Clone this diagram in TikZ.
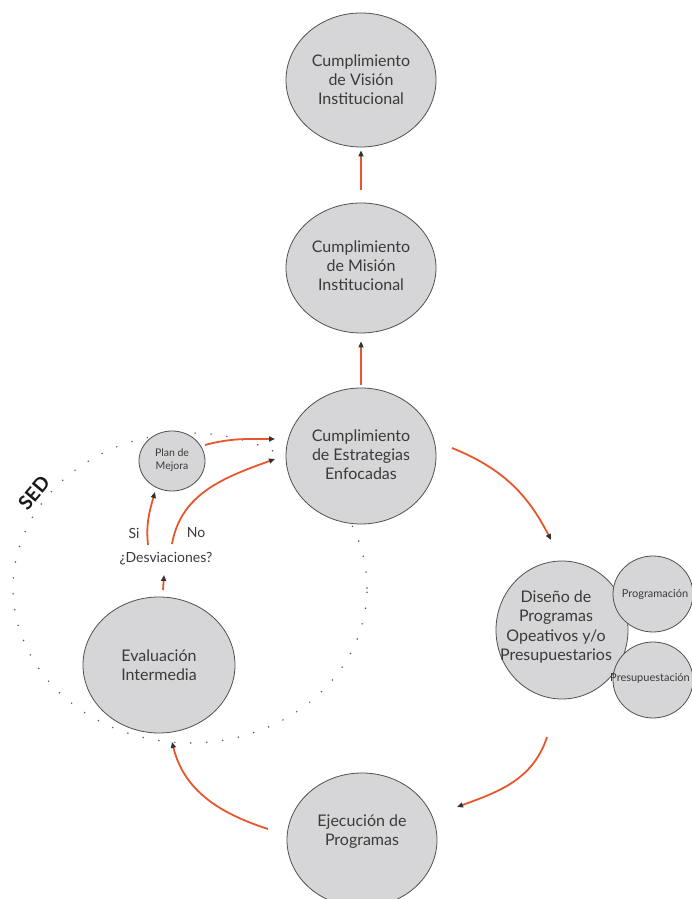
\documentclass[tikz,border=0pt]{standalone}
\usepackage{fontspec}
\setmainfont{Lato}
\usetikzlibrary{arrows.meta,shapes.geometric}
\definecolor{circfill}{HTML}{D6D6D8}
\definecolor{circline}{HTML}{505050}
\definecolor{txt}{HTML}{3A3A3A}
\definecolor{arrowc}{HTML}{E8562B}
\begin{document}
\begin{tikzpicture}[x=1pt,y=1pt,
  bub/.style={ellipse, draw=circline, fill=circfill, line width=0.8pt, inner sep=0pt},
  lbl/.style={align=center, text=txt, inner sep=0pt, font=\fontsize{16}{19}\selectfont},
  small/.style={align=center, text=txt, inner sep=0pt, font=\fontsize{10.5}{13}\selectfont},
  mid/.style={align=center, text=txt, inner sep=0pt, font=\fontsize{14}{17}\selectfont},
  arr/.style={draw=arrowc, line width=1.8pt, -{Triangle[length=6pt,width=5pt,color=black!80]}},
  sed/.style={draw=black!65, line width=1.7pt, line cap=round, dash pattern=on 0pt off 16pt}]
\useasboundingbox (0,0) rectangle (691,899);
% SED dotted ellipse
\draw[sed] (190,311) ellipse [x radius=177, y radius=155];
% bubbles
\node[bub, minimum width=150, minimum height=134] (V) at (361,819) {};
\node[bub, minimum width=150, minimum height=130] (M) at (361,631) {};
\node[bub, minimum width=150, minimum height=136] (E) at (361,443) {};
\node[bub, minimum width=132, minimum height=138] (D) at (562,269) {};
\node[bub, minimum width=80, minimum height=76] (Prog) at (653,305) {};
\node[bub, minimum width=80, minimum height=76] (Pres) at (653,219) {};
\node[bub, minimum width=150, minimum height=134] (Ej) at (362,59) {};
\node[bub, minimum width=152, minimum height=136] (Ev) at (159,234) {};
\node[bub, minimum width=66, minimum height=60] (PM) at (172,438) {};
% texts
\node[lbl] (Vt) at (361,819) {Cumplimiento\\de Visión\\Institucional};
\node[lbl] (Mt) at (361,633) {Cumplimiento\\de Misión\\Institucional};
\node[lbl] (Et) at (361,444) {Cumplimiento\\de Estrategias\\Enfocadas};
\node[lbl, font=\fontsize{16}{19.5}\selectfont] (Dt) at (556,272) {Diseño de\\Programas\\Opeativos y/o\\Presupuestarios};
\node[small, font=\fontsize{11}{13}\selectfont] (Progt) at (655,305) {Programación};
\node[small, font=\fontsize{11}{13}\selectfont] (Prest) at (650,221) {Presupuestación};
\node[lbl] (Ejt) at (362,67) {Ejecución de\\Programas};
\node[lbl] (Evt) at (159,234) {Evaluación\\Intermedia};
\node[small] (PMt) at (172,439) {Plan de\\Mejora};
\node[mid] (Desv) at (166,340) {¿Desviaciones?};
\node[mid] (Si) at (134,366) {Si};
\node[mid] (No) at (196,366) {No};
\node[font=\bfseries\fontsize{19.5}{20}\selectfont, text=black!90, rotate=50, inner sep=0pt] (SED) at (34,406) {SED};
% arrow end points
\coordinate (ed1) at (452,451); \coordinate (ed2) at (551,359);
\coordinate (dj1) at (547,162); \coordinate (dj2) at (457,92);
\coordinate (je1) at (268,70);  \coordinate (je2) at (172,157);
\coordinate (ev1) at (163,309); \coordinate (ev2) at (164,324);
\coordinate (si1) at (148,354); \coordinate (si2) at (155,407);
\coordinate (no1) at (172,355); \coordinate (no2) at (275,440);
\coordinate (pm1) at (205,454); \coordinate (pm2) at (275,460);
% arrows
\draw[arr, shorten <=13pt, shorten >=3pt] (M) -- (V);
\draw[arr, shorten <=3pt, shorten >=8pt] (E) -- (M);
\draw[arr] (ed1) to[out=-22,in=117] (ed2);
\draw[arr] (dj1) to[out=-108,in=20] (dj2);
\draw[arr] (je1) to[out=162,in=-76] (je2);
\draw[arr] (ev1) -- (ev2);
\draw[arr] (si1) to[out=96,in=254] (si2);
\draw[arr] (no1) to[out=80,in=200] (no2);
\draw[arr] (pm1) to[out=15,in=180] (pm2);
\end{tikzpicture}
\end{document}
